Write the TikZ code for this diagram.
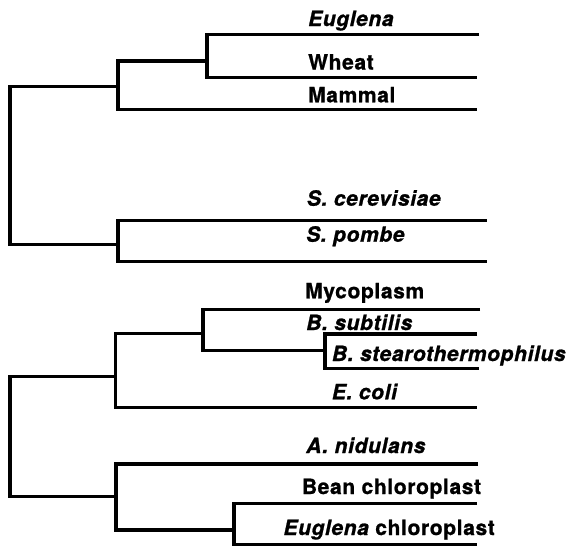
\documentclass[tikz,border=0pt]{standalone}
\usepackage{fontspec}
\setmainfont{TeX Gyre Heros}[LetterSpace=3,BoldFeatures={FakeBold=1},BoldItalicFeatures={FakeBold=1}]
\begin{document}
\begin{tikzpicture}[x=1pt,y=-1pt,
  branch/.style={line width=3.2pt,line join=miter,line cap=butt},
  taxon/.style={anchor=base west,inner sep=0pt,font=\fontsize{21}{24}\selectfont\bfseries}]
\useasboundingbox (0,0) rectangle (567,549);
% ---- upper tree: branch points
\coordinate (R1) at (10,165);
\coordinate (A) at (118,86.5);
\coordinate (B) at (207,61);
\coordinate (C) at (118,244.5);
% leaf ends
\coordinate (eug) at (479,34.5);
\coordinate (whe) at (477,77.3);
\coordinate (mam) at (477,109.5);
\coordinate (sce) at (486.5,220.5);
\coordinate (spo) at (486.5,261.5);
\draw[branch] (eug) -| (B) |- (whe);
\draw[branch] (B) -| (A) |- (mam);
\draw[branch] (sce) -| (C) |- (spo);
\draw[branch] (A) -| (R1) |- (C);
% ---- lower tree
\coordinate (R2) at (10,430);
\coordinate (D) at (115.5,376.7);
\coordinate (F) at (203,333.5);
\coordinate (G) at (325,350.7);
\coordinate (E) at (116,496.7);
\coordinate (H) at (234,530);
\coordinate (myc) at (480,309.5);
\coordinate (bsu) at (477,334);
\coordinate (bst) at (479,368.5);
\coordinate (eco) at (477,407.3);
\coordinate (ani) at (478,464);
\coordinate (bea) at (477,503.3);
\coordinate (euc) at (477,544.3);
\draw[branch] (bsu) -| (G) |- (bst);
\draw[branch] (myc) -| (F) |- (G);
\draw[branch] (F) -| (D) |- (eco);
\draw[branch] (bea) -| (H) |- (euc);
\draw[branch] (ani) -| (E) |- (H);
\draw[branch] (D) -| (R2) |- (E);
% ---- labels
\node[taxon] (Leug) at (308,26) {\itshape Euglena};
\node[taxon] (Lwhe) at (308,69.5) {Wheat};
\node[taxon] (Lmam) at (308,102.3) {Mammal};
\node[taxon] (Lsce) at (306.7,205.7) {\itshape S. cerevisiae};
\node[taxon] (Lspo) at (306,241.7) {\itshape S. pombe};
\node[taxon] (Lmyc) at (305,298.3) {Mycoplasm};
\node[taxon] (Lbsu) at (306,330) {\itshape B. subtilis};
\node[taxon] (Lbst) at (331.7,361) {\itshape B. stearothermophilus};
\node[taxon] (Leco) at (331.7,399.3) {\itshape E. coli};
\node[taxon] (Lani) at (306,453) {\itshape A. nidulans};
\node[taxon] (Lbea) at (301.7,494) {Bean chloroplast};
\node[taxon] (Leuc) at (283.3,535) {{\itshape Euglena} chloroplast};
\end{tikzpicture}
\end{document}
